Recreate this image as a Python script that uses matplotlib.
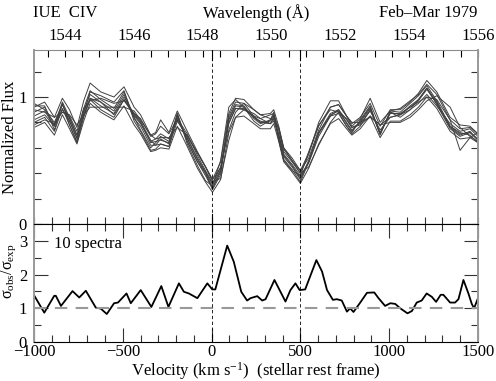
import numpy as np
import matplotlib.pyplot as plt
from matplotlib.ticker import MultipleLocator
import matplotlib.transforms as mtrans

plt.rcParams['font.family'] = ['Liberation Serif', 'DejaVu Serif']
plt.rcParams['font.size'] = 12
plt.rcParams['mathtext.fontset'] = 'custom'
plt.rcParams['mathtext.rm'] = 'Liberation Serif'
plt.rcParams['mathtext.it'] = 'Liberation Serif'

# velocity grid of the spectra (km/s)
vel = [-1000, -940, -885, -840, -800, -758, -720, -684, -624, -550, -493, -436, -400,
       -343, -315, -287, -240, -193, -137, -80, -34, 5, 51, 97, 135, 182, 238, 275,
       331, 350, 378, 406, 453, 500, 547, 603, 669, 715, 760, 790, 837, 893, 949,
       1006, 1062, 1118, 1165, 1212, 1268, 1343, 1399, 1455, 1500]

# the 10 normalized spectra
s1 = [0.85, 0.89, 0.77, 0.94, 0.81, 0.67, 0.89, 1.02, 0.96, 0.89, 1.02, 0.83, 0.77,
      0.62, 0.62, 0.67, 0.63, 0.85, 0.65, 0.49, 0.38, 0.28, 0.41,
      0.83, 0.94, 0.93, 0.83, 0.79, 0.82, 0.86, 0.69, 0.53, 0.45, 0.35, 0.49, 0.72,
      0.87, 0.90, 0.79, 0.73, 0.81, 0.92, 0.71, 0.88, 0.86, 0.93, 0.98, 1.07, 0.96, 0.76, 0.70, 0.73, 0.66]
s2 = [0.92, 0.96, 0.84, 0.99, 0.90, 0.76, 0.97, 1.11, 1.04, 1.00, 1.08, 0.92, 0.86,
      0.70, 0.72, 0.82, 0.72, 0.89, 0.73, 0.57, 0.45, 0.35, 0.49,
      0.87, 0.99, 0.98, 0.90, 0.86, 0.87, 0.90, 0.77, 0.60, 0.52, 0.42, 0.56, 0.77,
      0.92, 0.94, 0.85, 0.79, 0.84, 0.95, 0.77, 0.90, 0.90, 0.96, 1.03, 1.13, 1.04, 0.84, 0.78, 0.77, 0.71]
s3 = [0.76, 0.80, 0.70, 0.86, 0.75, 0.63, 0.81, 0.95, 0.88, 0.82, 0.93, 0.78, 0.71,
      0.57, 0.58, 0.60, 0.59, 0.77, 0.61, 0.44, 0.33, 0.25, 0.35,
      0.72, 0.84, 0.85, 0.79, 0.75, 0.75, 0.79, 0.65, 0.49, 0.41, 0.32, 0.44, 0.63,
      0.79, 0.83, 0.75, 0.70, 0.75, 0.85, 0.68, 0.81, 0.81, 0.86, 0.92, 1.00, 0.91, 0.73, 0.67, 0.68, 0.64]
s4 = [0.90, 0.88, 0.84, 0.88, 0.86, 0.78, 0.86, 0.92, 0.92, 0.92, 0.92, 0.89, 0.82,
      0.70, 0.67, 0.68, 0.68, 0.76, 0.70, 0.56, 0.45, 0.35, 0.44,
      0.74, 0.88, 0.95, 0.90, 0.86, 0.83, 0.82, 0.76, 0.60, 0.50, 0.42, 0.52, 0.74,
      0.92, 0.94, 0.85, 0.80, 0.80, 0.84, 0.78, 0.84, 0.86, 0.92, 0.96, 1.00, 0.98, 0.82, 0.58, 0.68, 0.72]
s5 = [0.80, 0.84, 0.73, 0.91, 0.78, 0.64, 0.84, 0.98, 0.90, 0.84, 0.98, 0.87, 0.81,
      0.66, 0.62, 0.63, 0.61, 0.81, 0.69, 0.56, 0.45, 0.33, 0.36,
      0.66, 0.84, 0.90, 0.87, 0.83, 0.79, 0.84, 0.74, 0.59, 0.50, 0.40, 0.45, 0.62,
      0.80, 0.88, 0.83, 0.76, 0.79, 0.89, 0.74, 0.84, 0.86, 0.90, 0.95, 1.02, 0.93, 0.79, 0.73, 0.75, 0.69]
s6 = [0.88, 0.92, 0.78, 0.96, 0.84, 0.70, 0.91, 1.05, 0.98, 0.91, 1.04, 0.84, 0.74,
      0.60, 0.64, 0.69, 0.65, 0.87, 0.63, 0.46, 0.34, 0.30, 0.50,
      0.92, 0.98, 0.92, 0.81, 0.77, 0.82, 0.88, 0.66, 0.50, 0.42, 0.38, 0.57, 0.78,
      0.90, 0.88, 0.77, 0.72, 0.82, 0.93, 0.70, 0.89, 0.88, 0.95, 1.01, 1.09, 0.97, 0.77, 0.72, 0.70, 0.64]
s7 = [0.78, 0.82, 0.79, 0.88, 0.85, 0.73, 0.91, 0.97, 0.99, 0.95, 0.97, 0.87, 0.83,
      0.69, 0.71, 0.77, 0.71, 0.83, 0.71, 0.54, 0.42, 0.32, 0.45,
      0.80, 0.91, 0.90, 0.85, 0.83, 0.86, 0.87, 0.75, 0.57, 0.49, 0.40, 0.55, 0.80,
      0.97, 0.97, 0.85, 0.77, 0.83, 0.99, 0.80, 0.89, 0.91, 0.97, 1.02, 1.10, 1.02, 0.82, 0.75, 0.76, 0.71]
s8 = [0.93, 0.93, 0.74, 0.95, 0.78, 0.65, 0.87, 1.04, 1.01, 0.96, 1.05, 0.81, 0.73,
      0.58, 0.59, 0.63, 0.61, 0.87, 0.65, 0.49, 0.40, 0.27, 0.39,
      0.85, 0.96, 0.95, 0.85, 0.80, 0.79, 0.83, 0.67, 0.51, 0.43, 0.33, 0.49, 0.72,
      0.85, 0.87, 0.77, 0.71, 0.77, 0.90, 0.71, 0.88, 0.84, 0.90, 0.98, 1.07, 0.94, 0.75, 0.69, 0.72, 0.66]
s9 = [0.82, 0.86, 0.77, 0.90, 0.81, 0.68, 0.86, 0.99, 0.96, 0.86, 0.98, 0.85, 0.79,
      0.65, 0.67, 0.71, 0.67, 0.82, 0.68, 0.52, 0.41, 0.31, 0.43,
      0.79, 0.91, 0.91, 0.84, 0.81, 0.79, 0.81, 0.71, 0.55, 0.47, 0.38, 0.48, 0.69,
      0.85, 0.90, 0.82, 0.76, 0.78, 0.85, 0.78, 0.80, 0.80, 0.84, 0.90, 0.97, 1.01, 0.92, 0.76, 0.69, 0.65]
s10 = [0.95, 0.90, 0.80, 0.94, 0.83, 0.70, 0.85, 0.99, 0.93, 0.87, 1.00, 0.86, 0.80,
       0.64, 0.65, 0.66, 0.64, 0.84, 0.67, 0.51, 0.40, 0.29, 0.42,
       0.82, 0.93, 0.92, 0.84, 0.80, 0.81, 0.85, 0.70, 0.54, 0.46, 0.36, 0.50, 0.71,
       0.86, 0.89, 0.80, 0.74, 0.80, 0.91, 0.72, 0.87, 0.87, 0.92, 0.97, 1.06, 0.95, 0.77, 0.71, 0.72, 0.67]
spectra = [s1, s2, s3, s4, s5, s6, s7, s8, s9, s10]

# sigma_obs / sigma_exp
sig_v = [-1000, -942, -886, -877, -848, -783, -745, -708, -652, -624, -590, -549, -527,
         -479, -455, -399, -339, -283, -243, -184, -156, -128, -80, -24, 4, 21, 88, 125,
         167, 200, 219, 238, 257, 285, 304, 354, 416, 444, 472, 496, 527, 590, 622, 650,
         683, 705, 733, 762, 780, 799, 837, 875, 916, 940, 977, 1006, 1034, 1062, 1103,
         1128, 1155, 1183, 1211, 1240, 1264, 1290, 1305, 1343, 1371, 1390, 1418, 1446,
         1465, 1478, 1500]
sig_r = [1.39, 0.87, 1.37, 1.37, 1.07, 1.51, 1.32, 1.52, 1.02, 0.99, 0.83, 1.15, 1.17,
         1.44, 1.15, 1.54, 1.04, 1.66, 1.04, 1.74, 1.49, 1.44, 1.30, 1.74, 1.56, 1.56, 2.86, 2.38,
         1.49, 1.23, 1.30, 1.33, 1.36, 1.23, 1.27, 1.84, 1.20, 1.54, 1.74, 1.54, 1.56, 2.43, 2.09, 1.54,
         1.25, 1.27, 1.23, 0.90, 1.00, 0.89, 1.17, 1.46, 1.47, 1.30, 1.07, 1.15, 1.13, 1.00, 0.85,
         0.92, 1.17, 1.23, 1.44, 1.34, 1.19, 1.40, 1.40, 1.17, 1.17, 1.27, 1.84, 1.44,
         1.13, 1.00, 1.30]

lam0 = 1548.26
c = 299792.458
wl_ticks = [1544, 1546, 1548, 1550, 1552, 1554, 1556]

fig = plt.figure(figsize=(4.96, 3.81), dpi=100)
ax1 = fig.add_axes([0.0685, 0.412, 0.8952, 0.4568])
ax2 = fig.add_axes([0.0685, 0.1024, 0.8952, 0.3096])

for s in spectra:
    ax1.plot(vel, s, color='0.25', lw=0.7)
ax1.set_xlim(-1000, 1500)
ax1.set_ylim(0, 1.37)
ax1.set_yticks([0, 1])
ax1.yaxis.set_minor_locator(MultipleLocator(0.2))
ax1.xaxis.set_major_locator(MultipleLocator(500))
ax1.xaxis.set_minor_locator(MultipleLocator(100))
ax1.tick_params(axis='y', which='both', direction='in', left=True, right=True, pad=5)
ax1.tick_params(axis='y', which='major', length=10, width=0.8)
ax1.tick_params(axis='y', which='minor', length=5, width=0.8)
ax1.tick_params(axis='x', which='both', direction='in', bottom=True, top=False,
                labelbottom=False, length=5, width=0.8)
ax1.set_ylabel('Normalized Flux')
ax1.yaxis.set_label_coords(-0.035, 0.5)

sec = ax1.secondary_xaxis('top', functions=(lambda v: lam0 * (1 + v / c),
                                            lambda l: (l / lam0 - 1) * c))
sec.set_xticks(wl_ticks)
sec.xaxis.set_minor_locator(MultipleLocator(0.5))
sec.tick_params(which='both', direction='in', length=5, width=0.8, pad=4)
sec.spines['top'].set_color('0.55')

ax2.plot(sig_v, sig_r, color='black', lw=1.3)
ax2.axhline(1, color='0.6', lw=1.5, dashes=(6, 4))
ax2.set_xlim(-1000, 1500)
ax2.set_ylim(0, 3.5)
ax2.set_yticks([0, 1, 2, 3])
ax2.yaxis.set_minor_locator(MultipleLocator(0.5))
ax2.xaxis.set_minor_locator(MultipleLocator(100))
ax2.set_xticks([-1000, -500, 0, 500, 1000, 1500])
ax2.set_xticklabels(['\u22121000', '\u2212500', '0', '500', '1000', '1500'])
ax2.tick_params(axis='y', which='both', direction='in', left=True, right=True, pad=5)
ax2.tick_params(axis='y', which='major', length=10, width=0.8)
ax2.tick_params(axis='y', which='minor', length=5, width=0.8)
ax2.tick_params(axis='x', which='both', direction='in', bottom=True, top=True, width=0.8, pad=1.5)
ax2.tick_params(axis='x', which='major', length=10)
ax2.tick_params(axis='x', which='minor', length=5)
ax2.set_xlabel('Velocity (km s$^{-1}$)  (stellar rest frame)', labelpad=0)
ax2.set_ylabel(r'$\sigma_{\rm obs}/\sigma_{\rm exp}$', fontsize=11.5)
ax2.yaxis.set_label_coords(-0.037, 0.6)
ax2.text(0.045, 0.9, '10 spectra', transform=ax2.transAxes, ha='left', va='top')

for ax in (ax1, ax2):
    for side in ('left', 'right'):
        ax.spines[side].set_color('0.6')
        ax.spines[side].set_linewidth(1.4)
    for side in ('top', 'bottom'):
        ax.spines[side].set_linewidth(0.8)
    ax.tick_params(which='both', color='0.2')
    tr = mtrans.blended_transform_factory(ax.transData, ax.transAxes)
    for v0 in (0, 500):
        ax.axvline(v0, color='black', lw=0.6, dashes=(4, 3))
        ax.plot([v0, v0], [0, 0.06], color='black', lw=0.8, transform=tr)
        ax.plot([v0, v0], [0.94, 1], color='black', lw=0.8, transform=tr)
ax1.spines['top'].set_visible(False)

fig.text(0.067, 0.965, 'IUE  CIV', ha='left', va='center')
fig.text(0.516, 0.965, 'Wavelength (\u00c5)', ha='center', va='center')
fig.text(0.963, 0.965, 'Feb\u2013Mar 1979', ha='right', va='center')

fig.savefig('out.png', dpi=100)
